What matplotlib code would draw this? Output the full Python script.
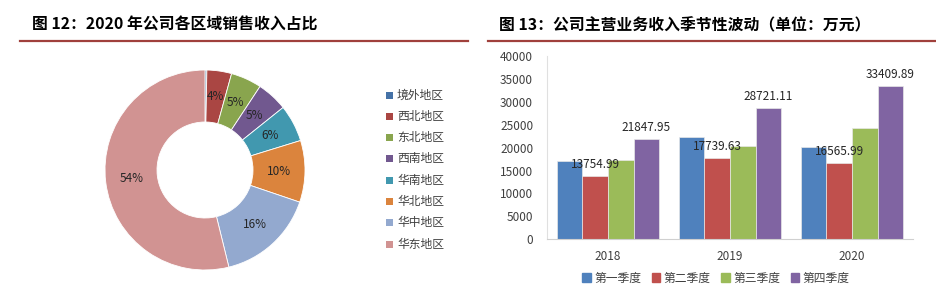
import matplotlib
matplotlib.use('Agg')
import matplotlib.pyplot as plt
import numpy as np
from matplotlib.lines import Line2D

plt.rcParams['font.family'] = ['Noto Sans CJK SC', 'DejaVu Sans']

# donut data
regions = ['境外地区', '西北地区', '东北地区', '西南地区', '华南地区', '华北地区', '华中地区', '华东地区']
shares = [0.3, 4, 5, 5, 6, 10, 16, 54]
share_labels = ['', '4%', '5%', '5%', '6%', '10%', '16%', '54%']
region_colors = ['#4572A7', '#AA4643', '#89A54E', '#71588F', '#4198AF', '#DB843D', '#93A9CF', '#D19392']

# bar data
years = ['2018', '2019', '2020']
quarters = ['第一季度', '第二季度', '第三季度', '第四季度']
q1 = [17150, 22260, 20140]
q2 = [13754.99, 17739.63, 16565.99]
q3 = [17370, 20290, 24220]
q4 = [21847.95, 28721.11, 33409.89]
quarter_colors = ['#4F81BD', '#C0504D', '#9BBB59', '#8064A2']

W, H = 936, 286
fig = plt.figure(figsize=(W / 100, H / 100), dpi=100)

def fx(px):
    return px / W

def fy(py):
    return 1 - py / H

# titles and red underlines
title_kw = dict(fontsize=11.4, fontweight='bold', color='#000000', va='center', ha='left')
fig.text(fx(32), fy(25), '图 12：2020 年公司各区域销售收入占比', **title_kw)
fig.text(fx(499), fy(25), '图 13：公司主营业务收入季节性波动（单位：万元）', **title_kw)
line_color = '#A0403C'
for x0, x1 in [(20, 468), (488, 935)]:
    fig.add_artist(Line2D([fx(x0), fx(x1)], [fy(41), fy(41)], color=line_color, lw=1.6))

# donut chart
ax1 = fig.add_axes([fx(105), fy(270), fx(200), 200 / H])
wedges, _ = ax1.pie(shares, colors=region_colors, startangle=90, counterclock=False,
                    radius=1.0, wedgeprops=dict(width=0.52, edgecolor='white', linewidth=0.6))
theta = 90
for val, lab in zip(shares, share_labels):
    ang = theta - val / sum(shares) * 360 / 2
    theta -= val / sum(shares) * 360
    if lab:
        r = 0.74
        ax1.text(r * np.cos(np.radians(ang)), r * np.sin(np.radians(ang)), lab,
                 ha='center', va='center', fontsize=8.5, color='#262626')
ax1.set_xlim(-1.0, 1.0)
ax1.set_ylim(-1.0, 1.0)
ax1.set_aspect('equal')
ax1.axis('off')

# donut legend
for i, (name, c) in enumerate(zip(regions, region_colors)):
    y = 95 + i * 21.3
    fig.patches.append(plt.Rectangle((fx(386), fy(y + 3.5)), fx(7), 7 / H,
                                     transform=fig.transFigure, facecolor=c, edgecolor='none'))
    fig.text(fx(397), fy(y), name, fontsize=8.5, color='#404040', va='center', ha='left')

# bar chart
ax2 = fig.add_axes([fx(547), fy(239.3), fx(913 - 547), (239.3 - 56) / H])
x = np.arange(len(years))
bw = 0.21
for i, (vals, c) in enumerate(zip([q1, q2, q3, q4], quarter_colors)):
    pos = x + (i - 1.5) * bw
    ax2.bar(pos, vals, width=bw, color=c, edgecolor='#E8E8E8', linewidth=0.5, label=quarters[i])
    if i in (1, 3):
        for p, v in zip(pos, vals):
            ax2.text(p, v + 1100, f'{v:.2f}', ha='center', va='bottom', fontsize=8.5, color='#262626')

ax2.set_xlim(-0.5, 2.5)
ax2.set_ylim(0, 40000)
ax2.set_yticks(np.arange(0, 40001, 5000))
ax2.set_xticks(x)
ax2.set_xticklabels(years)
ax2.tick_params(axis='both', length=0, labelsize=8.5, colors='#404040', pad=8)
ax2.tick_params(axis='y', pad=10)
for s in ['top', 'right']:
    ax2.spines[s].set_visible(False)
ax2.spines['left'].set_color('#E0E0E0')
ax2.spines['bottom'].set_color('#D0D0D0')

handles = [plt.Rectangle((0, 0), 1, 1, color=c) for c in quarter_colors]
fig.legend(handles, quarters, loc='center', bbox_to_anchor=(fx(716), fy(278)), ncol=4,
           frameon=False, fontsize=8.5, handlelength=0.7, handleheight=0.7, handletextpad=0.3,
           columnspacing=0.9, labelcolor='#404040')

fig.savefig('out.png', dpi=100)
